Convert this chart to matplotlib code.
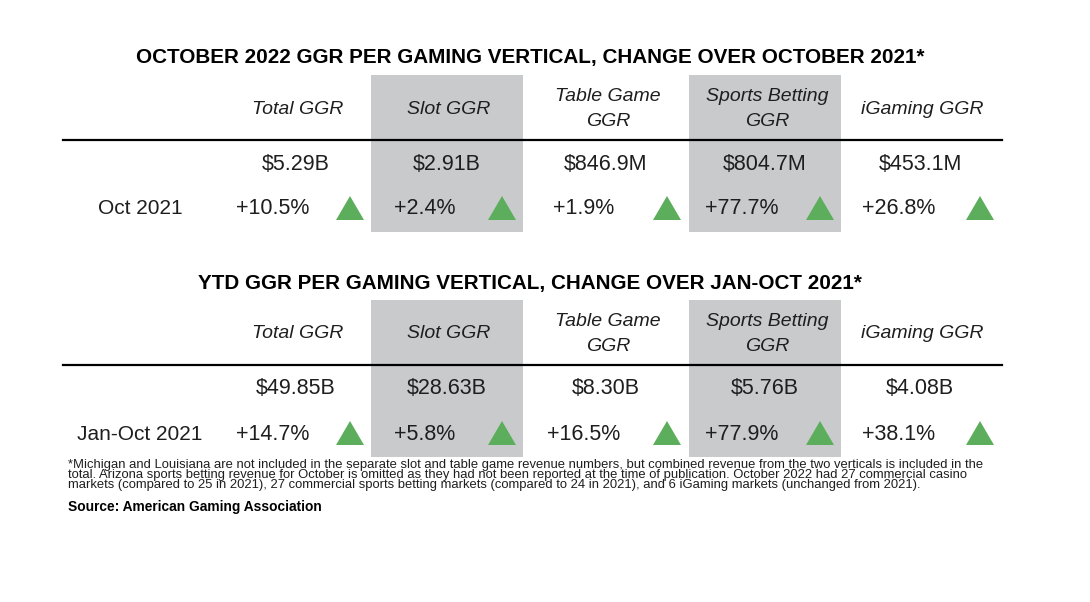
import matplotlib.pyplot as plt
from matplotlib.patches import Rectangle, Polygon

# --- data ---
columns = ['Total GGR', 'Slot GGR', 'Table Game\nGGR', 'Sports Betting\nGGR', 'iGaming GGR']
shaded = [False, True, False, True, False]

title_oct = 'OCTOBER 2022 GGR PER GAMING VERTICAL, CHANGE OVER OCTOBER 2021*'
label_oct = 'Oct 2021'
values_oct = ['$5.29B', '$2.91B', '$846.9M', '$804.7M', '$453.1M']
change_oct = [10.5, 2.4, 1.9, 77.7, 26.8]

title_ytd = 'YTD GGR PER GAMING VERTICAL, CHANGE OVER JAN-OCT 2021*'
label_ytd = 'Jan-Oct 2021'
values_ytd = ['$49.85B', '$28.63B', '$8.30B', '$5.76B', '$4.08B']
change_ytd = [14.7, 5.8, 16.5, 77.9, 38.1]

footnote = [
    '*Michigan and Louisiana are not included in the separate slot and table game revenue numbers, but combined revenue from the two verticals is included in the',
    'total. Arizona sports betting revenue for October is omitted as they had not been reported at the time of publication. October 2022 had 27 commercial casino',
    'markets (compared to 25 in 2021), 27 commercial sports betting markets (compared to 24 in 2021), and 6 iGaming markets (unchanged from 2021).',
]
source = 'Source: American Gaming Association'

# --- layout (pixels) ---
W, H = 1090, 602
col_x = [296, 447, 606, 765, 920]
col_w = 152
pct_x = [273, 425, 584, 742, 899]
tri_x = [350, 502, 667, 820, 980]
tri_w, tri_h = 28, 24

GRAY = '#c9cacc'
GREEN = '#5cae5c'
TXT = '#1e1e1e'
SANS = ['Liberation Sans', 'DejaVu Sans']

fig = plt.figure(figsize=(W / 100, H / 100), dpi=100)
ax = fig.add_axes([0, 0, 1, 1])
ax.set_xlim(0, W)
ax.set_ylim(H, 0)
ax.axis('off')
renderer = fig.canvas.get_renderer()


def fit(txt, width):
    # scale the font so the text spans the width seen in the original
    w = txt.get_window_extent(renderer).width
    txt.set_fontsize(txt.get_fontsize() * width / w)
    return txt.get_fontsize()


def draw_block(y0, title, row_label, values, changes, title_size=None):
    for cx, sh in zip(col_x, shaded):
        if sh:
            ax.add_patch(Rectangle((cx - col_w / 2, y0 + 17), col_w, 157,
                                   facecolor=GRAY, edgecolor='none', zorder=0))
    t = ax.text(530, y0, title, ha='center', va='center', fontsize=15,
                fontweight='bold', family=SANS, color='black')
    if title_size is None:
        title_size = fit(t, 790)
    else:
        t.set_fontsize(title_size)
    for cx, name in zip(col_x, columns):
        ax.text(cx + 2, y0 + 51, name, ha='center', va='center', fontsize=14,
                style='italic', family=SANS, color=TXT, linespacing=1.55)
    ax.plot([63, 1002], [y0 + 82, y0 + 82], color='black', lw=1.6, zorder=2)
    for cx, v in zip(col_x, values):
        ax.text(cx, y0 + 106, v, ha='center', va='center', fontsize=15.5,
                family=SANS, color=TXT)
    ax.text(140, y0 + 151, row_label, ha='center', va='center', fontsize=15,
            family=SANS, color=TXT)
    for px, tx, c in zip(pct_x, tri_x, changes):
        ax.text(px, y0 + 151, f'{c:+.1f}%', ha='center', va='center',
                fontsize=15.5, family=SANS, color=TXT)
        yc = y0 + 150
        if c >= 0:
            pts = [(tx - tri_w / 2, yc + tri_h / 2), (tx + tri_w / 2, yc + tri_h / 2),
                   (tx, yc - tri_h / 2)]
            col = GREEN
        else:
            pts = [(tx - tri_w / 2, yc - tri_h / 2), (tx + tri_w / 2, yc - tri_h / 2),
                   (tx, yc + tri_h / 2)]
            col = '#c0392b'
        ax.add_patch(Polygon(pts, closed=True, facecolor=col, edgecolor='none', zorder=3))
    return title_size


ts = draw_block(58, title_oct, label_oct, values_oct, change_oct)
draw_block(283, title_ytd, label_ytd, values_ytd, change_ytd, title_size=ts)

fn = []
for i, line in enumerate(footnote):
    fn.append(ax.text(68, 468 + i * 10, line, ha='left', va='baseline', fontsize=8,
                      family=SANS, color=TXT))
fs = fit(fn[0], 922)
for t in fn[1:]:
    t.set_fontsize(fs)
s = ax.text(68, 511, source, ha='left', va='baseline', fontsize=10,
            fontweight='bold', family=SANS, color='black')
fit(s, 254)

fig.savefig('out.png', dpi=100, facecolor='white')
